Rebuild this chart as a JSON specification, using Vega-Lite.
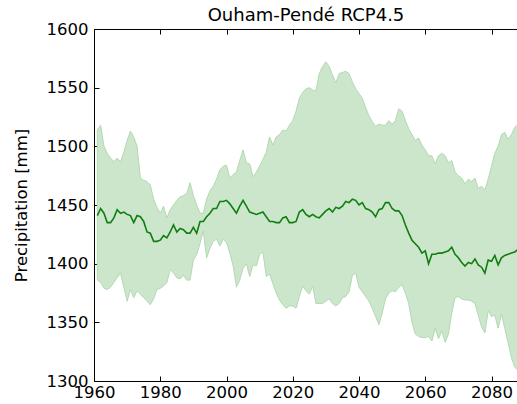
{
  "$schema": "https://vega.github.io/schema/vega-lite/v6.json",
  "autosize": {"type": "none"},
  "width": 424,
  "height": 352,
  "padding": {"left": 94, "top": 29, "right": 0, "bottom": 23},
  "config": {
    "font": "DejaVu Sans",
    "view": {"stroke": "black", "strokeWidth": 1},
    "axis": {"grid": false, "domain": false, "tickColor": "black", "tickSize": -5, "labelFont": "DejaVu Sans", "labelFontSize": 16.5, "labelColor": "black", "titleFont": "DejaVu Sans", "titleFontSize": 16.5, "titleFontWeight": "normal", "titleColor": "black"},
    "title": {"font": "DejaVu Sans", "fontSize": 18, "fontWeight": "normal", "color": "black", "offset": 6}
  },
  "title": {"text": "Ouham-Pendé RCP4.5", "anchor": "middle", "dy": 10},
  "data": {"values": [
    {"year":1961,"mid":1441,"lo":1386,"hi":1514},
    {"year":1962,"mid":1447,"lo":1384,"hi":1518},
    {"year":1963,"mid":1443,"lo":1379,"hi":1500},
    {"year":1964,"mid":1435,"lo":1378,"hi":1494},
    {"year":1965,"mid":1435,"lo":1380,"hi":1490},
    {"year":1966,"mid":1439,"lo":1384,"hi":1487},
    {"year":1967,"mid":1446,"lo":1388,"hi":1490},
    {"year":1968,"mid":1443,"lo":1392,"hi":1487},
    {"year":1969,"mid":1444,"lo":1380,"hi":1495},
    {"year":1970,"mid":1442,"lo":1368,"hi":1505},
    {"year":1971,"mid":1441,"lo":1378,"hi":1513},
    {"year":1972,"mid":1435,"lo":1371,"hi":1508},
    {"year":1973,"mid":1441,"lo":1377,"hi":1500},
    {"year":1974,"mid":1440,"lo":1374,"hi":1473},
    {"year":1975,"mid":1436,"lo":1371,"hi":1471},
    {"year":1976,"mid":1427,"lo":1368,"hi":1470},
    {"year":1977,"mid":1426,"lo":1365,"hi":1467},
    {"year":1978,"mid":1419,"lo":1370,"hi":1455},
    {"year":1979,"mid":1419,"lo":1378,"hi":1448},
    {"year":1980,"mid":1420,"lo":1379,"hi":1443},
    {"year":1981,"mid":1424,"lo":1381,"hi":1449},
    {"year":1982,"mid":1422,"lo":1384,"hi":1439},
    {"year":1983,"mid":1427,"lo":1395,"hi":1446},
    {"year":1984,"mid":1433,"lo":1392,"hi":1450},
    {"year":1985,"mid":1427,"lo":1388,"hi":1454},
    {"year":1986,"mid":1430,"lo":1387,"hi":1457},
    {"year":1987,"mid":1429,"lo":1390,"hi":1458},
    {"year":1988,"mid":1426,"lo":1386,"hi":1460},
    {"year":1989,"mid":1426,"lo":1386,"hi":1469},
    {"year":1990,"mid":1431,"lo":1403,"hi":1458},
    {"year":1991,"mid":1426,"lo":1408,"hi":1450},
    {"year":1992,"mid":1436,"lo":1417,"hi":1443},
    {"year":1993,"mid":1436,"lo":1428,"hi":1443},
    {"year":1994,"mid":1440,"lo":1405,"hi":1455},
    {"year":1995,"mid":1443,"lo":1413,"hi":1462},
    {"year":1996,"mid":1447,"lo":1419,"hi":1466},
    {"year":1997,"mid":1447,"lo":1421,"hi":1472},
    {"year":1998,"mid":1453,"lo":1415,"hi":1480},
    {"year":1999,"mid":1453,"lo":1421,"hi":1483},
    {"year":2000,"mid":1454,"lo":1418,"hi":1484},
    {"year":2001,"mid":1451,"lo":1409,"hi":1473},
    {"year":2002,"mid":1447,"lo":1398,"hi":1476},
    {"year":2003,"mid":1443,"lo":1380,"hi":1478},
    {"year":2004,"mid":1449,"lo":1386,"hi":1488},
    {"year":2005,"mid":1454,"lo":1396,"hi":1497},
    {"year":2006,"mid":1449,"lo":1400,"hi":1486},
    {"year":2007,"mid":1444,"lo":1389,"hi":1485},
    {"year":2008,"mid":1443,"lo":1399,"hi":1474},
    {"year":2009,"mid":1442,"lo":1398,"hi":1478},
    {"year":2010,"mid":1443,"lo":1408,"hi":1483},
    {"year":2011,"mid":1444,"lo":1410,"hi":1489},
    {"year":2012,"mid":1440,"lo":1389,"hi":1495},
    {"year":2013,"mid":1436,"lo":1391,"hi":1508},
    {"year":2014,"mid":1436,"lo":1383,"hi":1501},
    {"year":2015,"mid":1435,"lo":1375,"hi":1508},
    {"year":2016,"mid":1435,"lo":1369,"hi":1510},
    {"year":2017,"mid":1439,"lo":1365,"hi":1514},
    {"year":2018,"mid":1440,"lo":1362,"hi":1513},
    {"year":2019,"mid":1435,"lo":1364,"hi":1518},
    {"year":2020,"mid":1435,"lo":1364,"hi":1522},
    {"year":2021,"mid":1436,"lo":1362,"hi":1530},
    {"year":2022,"mid":1444,"lo":1372,"hi":1541},
    {"year":2023,"mid":1446,"lo":1381,"hi":1546},
    {"year":2024,"mid":1442,"lo":1377,"hi":1549},
    {"year":2025,"mid":1440,"lo":1374,"hi":1550},
    {"year":2026,"mid":1442,"lo":1381,"hi":1548},
    {"year":2027,"mid":1440,"lo":1366,"hi":1547},
    {"year":2028,"mid":1439,"lo":1366,"hi":1562},
    {"year":2029,"mid":1442,"lo":1366,"hi":1568},
    {"year":2030,"mid":1445,"lo":1368,"hi":1572},
    {"year":2031,"mid":1447,"lo":1370,"hi":1568},
    {"year":2032,"mid":1444,"lo":1366,"hi":1561},
    {"year":2033,"mid":1448,"lo":1364,"hi":1554},
    {"year":2034,"mid":1447,"lo":1366,"hi":1562},
    {"year":2035,"mid":1449,"lo":1371,"hi":1563},
    {"year":2036,"mid":1453,"lo":1372,"hi":1564},
    {"year":2037,"mid":1452,"lo":1376,"hi":1562},
    {"year":2038,"mid":1455,"lo":1390,"hi":1555},
    {"year":2039,"mid":1454,"lo":1392,"hi":1549},
    {"year":2040,"mid":1450,"lo":1380,"hi":1545},
    {"year":2041,"mid":1452,"lo":1376,"hi":1541},
    {"year":2042,"mid":1447,"lo":1372,"hi":1533},
    {"year":2043,"mid":1446,"lo":1368,"hi":1526},
    {"year":2044,"mid":1444,"lo":1362,"hi":1521},
    {"year":2045,"mid":1440,"lo":1355,"hi":1517},
    {"year":2046,"mid":1446,"lo":1348,"hi":1519},
    {"year":2047,"mid":1447,"lo":1358,"hi":1518},
    {"year":2048,"mid":1452,"lo":1370,"hi":1518},
    {"year":2049,"mid":1452,"lo":1375,"hi":1522},
    {"year":2050,"mid":1447,"lo":1377,"hi":1519},
    {"year":2051,"mid":1445,"lo":1376,"hi":1522},
    {"year":2052,"mid":1445,"lo":1380,"hi":1532},
    {"year":2053,"mid":1441,"lo":1382,"hi":1530},
    {"year":2054,"mid":1433,"lo":1375,"hi":1522},
    {"year":2055,"mid":1426,"lo":1366,"hi":1515},
    {"year":2056,"mid":1420,"lo":1350,"hi":1510},
    {"year":2057,"mid":1417,"lo":1340,"hi":1505},
    {"year":2058,"mid":1414,"lo":1338,"hi":1507},
    {"year":2059,"mid":1409,"lo":1337,"hi":1501},
    {"year":2060,"mid":1411,"lo":1337,"hi":1497},
    {"year":2061,"mid":1400,"lo":1338,"hi":1492},
    {"year":2062,"mid":1408,"lo":1334,"hi":1492},
    {"year":2063,"mid":1408,"lo":1345,"hi":1485},
    {"year":2064,"mid":1409,"lo":1336,"hi":1492},
    {"year":2065,"mid":1409,"lo":1343,"hi":1494},
    {"year":2066,"mid":1410,"lo":1333,"hi":1492},
    {"year":2067,"mid":1411,"lo":1340,"hi":1486},
    {"year":2068,"mid":1414,"lo":1358,"hi":1488},
    {"year":2069,"mid":1408,"lo":1371,"hi":1478},
    {"year":2070,"mid":1405,"lo":1372,"hi":1475},
    {"year":2071,"mid":1401,"lo":1370,"hi":1473},
    {"year":2072,"mid":1398,"lo":1369,"hi":1468},
    {"year":2073,"mid":1401,"lo":1369,"hi":1472},
    {"year":2074,"mid":1400,"lo":1368,"hi":1470},
    {"year":2075,"mid":1404,"lo":1366,"hi":1473},
    {"year":2076,"mid":1399,"lo":1356,"hi":1464},
    {"year":2077,"mid":1397,"lo":1346,"hi":1466},
    {"year":2078,"mid":1392,"lo":1341,"hi":1463},
    {"year":2079,"mid":1403,"lo":1360,"hi":1472},
    {"year":2080,"mid":1402,"lo":1355,"hi":1483},
    {"year":2081,"mid":1407,"lo":1356,"hi":1494},
    {"year":2082,"mid":1399,"lo":1345,"hi":1500},
    {"year":2083,"mid":1405,"lo":1357,"hi":1510},
    {"year":2084,"mid":1407,"lo":1345,"hi":1512},
    {"year":2085,"mid":1408,"lo":1333,"hi":1506},
    {"year":2086,"mid":1409,"lo":1320,"hi":1510},
    {"year":2087,"mid":1410,"lo":1312,"hi":1516},
    {"year":2088,"mid":1412,"lo":1309,"hi":1519}
  ]},
  "layer": [
    {
      "mark": {"type": "area", "color": "#cce6cc", "stroke": "#b3d9b3", "strokeWidth": 1, "clip": true},
      "encoding": {
        "x": {"field": "year", "type": "quantitative", "scale": {"domain": [1960, 2088], "nice": false, "zero": false}, "axis": {"values": [1960, 1980, 2000, 2020, 2040, 2060, 2080], "format": "d", "title": null, "labelPadding": 8, "labelAlign": "center"}},
        "y": {"field": "lo", "type": "quantitative", "scale": {"domain": [1300, 1600], "nice": false, "zero": false}, "axis": {"values": [1300, 1350, 1400, 1450, 1500, 1550, 1600], "format": "d", "title": "Precipitation [mm]", "labelPadding": 11, "titlePadding": 17}},
        "y2": {"field": "hi"}
      }
    },
    {
      "mark": {"type": "line", "color": "#107e10", "strokeWidth": 1.6, "clip": true},
      "encoding": {
        "x": {"field": "year", "type": "quantitative", "axis": {"orient": "top", "values": [1960, 1980, 2000, 2020, 2040, 2060, 2080], "labels": false, "title": null, "labelPadding": 0, "maxExtent": 0, "minExtent": 0}},
        "y": {"field": "mid", "type": "quantitative"}
      }
    }
  ],
  "resolve": {"axis": {"x": "independent"}}
}
